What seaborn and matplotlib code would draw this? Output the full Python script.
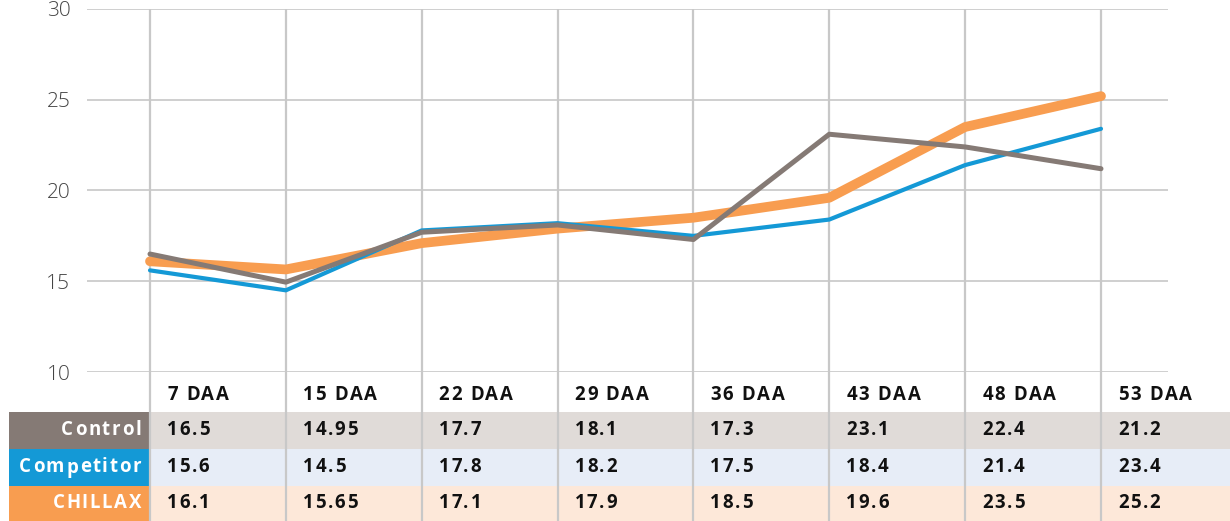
import numpy as np
import pandas as pd
import matplotlib.pyplot as plt
import seaborn as sns
from matplotlib.font_manager import FontProperties
from matplotlib.transforms import IdentityTransform

# data
days = ["7 DAA", "15 DAA", "22 DAA", "29 DAA", "36 DAA", "43 DAA", "48 DAA", "53 DAA"]
control = [16.5, 14.95, 17.7, 18.1, 17.3, 23.1, 22.4, 21.2]
competitor = [15.6, 14.5, 17.8, 18.2, 17.5, 18.4, 21.4, 23.4]
chillax = [16.1, 15.65, 17.1, 17.9, 18.5, 19.6, 23.5, 25.2]
yticks = [10, 15, 20, 25, 30]

rows = ["Control", "Competitor", "CHILLAX"]
values = {"Control": control, "Competitor": competitor, "CHILLAX": chillax}
line_colors = {"Control": "#857a75", "Competitor": "#1499d6", "CHILLAX": "#f89d50"}
cell_colors = {"Control": "#e0dbd8", "Competitor": "#e7edf7", "CHILLAX": "#fde8d9"}
line_widths = {"Control": 3.6, "Competitor": 3.0, "CHILLAX": 7.0}

df = pd.DataFrame({
    "pos": np.tile(np.arange(len(days)), len(rows)),
    "value": control + competitor + chillax,
    "series": np.repeat(rows, len(days)),
})

sns.set_theme(style="white")
plt.rcParams["font.family"] = ["Open Sans", "DejaVu Sans"]

W, H = 1230, 521
px0, step = 150, 951 / 7      # pixel of first category, pixels per category
grid_c = "#cccccc"

fig = plt.figure(figsize=(W / 100, H / 100), dpi=100)
renderer = fig.canvas.get_renderer()
bold = FontProperties(family=["Open Sans", "DejaVu Sans"], weight="bold", size=13.4)


def spaced_text(x, y, s, color, ha="left", track=1.7):
    # letter-spaced text, x / y in pixels from the top-left corner
    widths = [renderer.get_text_width_height_descent(c, bold, ismath=False)[0] for c in s]
    total = sum(widths) + track * (len(s) - 1)
    cx = x - total if ha == "right" else x
    for c, w in zip(s, widths):
        fig.text(cx, H - y, c, color=color, fontproperties=bold, ha="left",
                 va="center", transform=IdentityTransform(), zorder=5)
        cx += w + track


# --- line chart ---
ax = fig.add_axes([87 / W, (H - 372) / H, (1168 - 87) / W, (372 - 9) / H])
sns.lineplot(data=df, x="pos", y="value", hue="series", size="series",
             hue_order=["CHILLAX", "Competitor", "Control"],
             palette=line_colors, sizes=line_widths, legend=False, ax=ax,
             solid_capstyle="round", zorder=3)
ax.set_xlim((87 - px0) / step, (1168 - px0) / step)
ax.set_ylim(10, 30)
ax.set_yticks(yticks)
ax.set_xticks([])
ax.yaxis.grid(True, color=grid_c, lw=1.3)
ax.vlines(np.arange(len(days)), 10, 30, color="#c8c8c8", lw=1.6, zorder=1)
ax.set_xlabel("")
ax.set_ylabel("")
for s in ax.spines.values():
    s.set_visible(False)
ax.tick_params(axis="y", length=0, pad=12, labelsize=15, labelcolor="#444444")
for t in ax.get_yticklabels():
    t.set_fontweight("light")

# --- data table ---
tax = fig.add_axes([0, 0, 1, (H - 372) / H])
tax.set_xlim(-px0 / step, (W - px0) / step)
tax.set_ylim(0, H - 372)
tax.axis("off")

row_bounds = {"Control": (72, 109.5), "Competitor": (35, 72), "CHILLAX": (0, 35)}
xr = (W - px0) / step
for name in rows:
    y0, y1 = row_bounds[name]
    tax.add_patch(plt.Rectangle(((9 - px0) / step, y0), (px0 - 9) / step, y1 - y0,
                                color=line_colors[name], lw=0))
    tax.add_patch(plt.Rectangle((0, y0), xr, y1 - y0, color=cell_colors[name], lw=0))
    yc = H - (y0 + y1) / 2
    spaced_text(141, yc, name, "white", ha="right")
    for i, v in enumerate(values[name]):
        spaced_text(px0 + i * step + 17, yc, f"{v:g}", "#111111")

for i, d in enumerate(days):
    spaced_text(px0 + i * step + 17, 395.5, d, "#111111")

tax.vlines(np.arange(len(days)), 0, H - 372, color="#c8c8c8", lw=1.6, zorder=3)

fig.savefig("out.png", dpi=100)
